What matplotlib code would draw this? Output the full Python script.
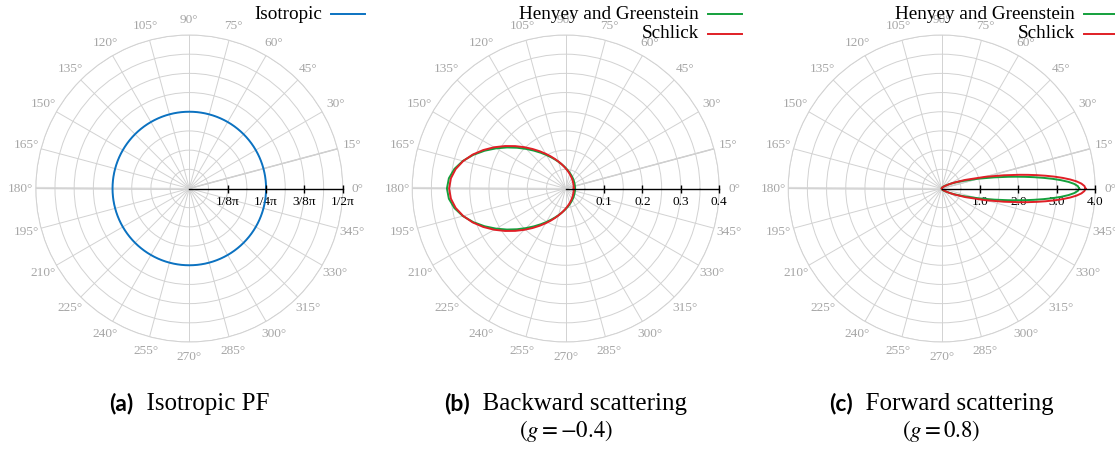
import numpy as np
import matplotlib.pyplot as plt
from matplotlib.lines import Line2D
from matplotlib.offsetbox import TextArea, HPacker, AnnotationBbox

plt.rcParams['font.family'] = ['Liberation Serif', 'DejaVu Serif']
plt.rcParams['mathtext.fontset'] = 'stix'

# phase function values (upper half, mirrored below)
back_deg = [0, 5, 10, 15, 20, 25, 30, 35, 40, 45, 50, 55, 60, 65, 70, 75, 80, 85, 90,
            95, 100, 105, 110, 115, 120, 125, 130, 135, 140, 145, 150, 155, 160, 165, 170, 175, 180]
back_hg = [0.0244, 0.0244, 0.0246, 0.0249, 0.0253, 0.0258, 0.0265, 0.0273, 0.0283, 0.0295,
           0.0309, 0.0325, 0.0343, 0.0365, 0.0389, 0.0418, 0.0452, 0.0490, 0.0535,
           0.0587, 0.0648, 0.0719, 0.0801, 0.0897, 0.1009, 0.1139, 0.1288, 0.1459, 0.1652,
           0.1865, 0.2093, 0.2330, 0.2563, 0.2774, 0.2944, 0.3056, 0.3095]
back_schlick = [0.0208, 0.0209, 0.0211, 0.0214, 0.0218, 0.0224, 0.0231, 0.0239, 0.0250, 0.0262,
                0.0277, 0.0294, 0.0314, 0.0337, 0.0364, 0.0395, 0.0432, 0.0474, 0.0524,
                0.0581, 0.0649, 0.0727, 0.0818, 0.0924, 0.1046, 0.1186, 0.1344, 0.1522, 0.1718,
                0.1929, 0.2150, 0.2371, 0.2581, 0.2766, 0.2912, 0.3005, 0.3038]

fwd_deg = [0, 1, 2, 3, 4, 5, 6, 7, 8, 9, 10, 12, 15, 20, 25, 30,
           40, 50, 60, 75, 90, 120, 150, 180]
fwd_hg = [3.581, 3.549, 3.454, 3.306, 3.115, 2.896, 2.660, 2.421, 2.187, 1.964, 1.757, 1.396, 0.986,
          0.568, 0.346, 0.223, 0.1074, 0.0599, 0.0372, 0.0211, 0.0136, 0.0075, 0.0054, 0.0049]
fwd_schlick = [3.746, 3.720, 3.643, 3.521, 3.359, 3.167, 2.954, 2.729, 2.500, 2.274, 2.056, 1.658, 1.176,
               0.656, 0.376, 0.224, 0.0918, 0.0440, 0.0239, 0.0115, 0.0065, 0.0030, 0.0019, 0.0017]

iso_value = 0.0796  # 1/(4 pi)

a_ticks = [1 / (8 * np.pi), 1 / (4 * np.pi), 3 / (8 * np.pi), 1 / (2 * np.pi)]
a_labels = ['1/8\u03c0', '1/4\u03c0', '3/8\u03c0', '1/2\u03c0']
b_ticks = [0.1, 0.2, 0.3, 0.4]
b_labels = ['0.1', '0.2', '0.3', '0.4']
c_ticks = [1.0, 2.0, 3.0, 4.0]
c_labels = ['1.0', '2.0', '3.0', '4.0']

blue = '#0b72c1'
green = '#14a03c'
red = '#e01f26'
grid_c = '#d2d2d2'

W, H = 1115, 451
fig = plt.figure(figsize=(W / 100, H / 100), dpi=100)

centers = [189.3, 565.7, 941.7]
cy = 188.5
R = 153.5


def mirror(deg, r):
    deg = list(deg)
    r = list(r)
    th = deg + [360 - d for d in deg[::-1][1:]]
    rr = r + r[::-1][1:]
    return np.deg2rad(th), np.array(rr)


def make_ax(cx, rmax, ticks, labels):
    ax = fig.add_axes([(cx - R) / W, (H - cy - R) / H, 2 * R / W, 2 * R / H], projection='polar')
    ax.set_ylim(0, rmax)
    ax.set_xticks(np.deg2rad(np.arange(0, 360, 15)))
    ax.set_xticklabels([])
    ax.set_yticks(np.linspace(rmax / 8, rmax, 8))
    ax.set_yticklabels([])
    ax.grid(True, color=grid_c, lw=0.7)
    ax.spines['polar'].set_color(grid_c)
    ax.spines['polar'].set_linewidth(0.7)
    for d in range(0, 360, 15):
        ax.text(np.deg2rad(d), rmax * 1.098, f'{d}\u00b0', ha='center', va='center',
                color='#a6a6a6', fontsize=9.6)
    ax.plot([np.pi, np.pi], [0, rmax], color='#dcdcdc', lw=1.6, zorder=1)
    ax.plot([np.deg2rad(15)] * 2, [0, rmax], color='#c4c4c4', lw=1.0, zorder=1)
    ax.plot([0, 0], [0, rmax], color='k', lw=1.0, zorder=4, clip_on=False)
    ax.plot(np.zeros(len(ticks)), ticks, ls='none', marker='|', ms=5.5, mew=1.0,
            color='k', zorder=4, clip_on=False)
    for t, l in zip(ticks, labels):
        ax.annotate(l, (0, t), xytext=(0, -9.5), textcoords='offset points',
                    ha='center', va='center', fontsize=9.5)
    return ax


def legend(cx, entries):
    x_txt = (cx + 133.0) / W
    for i, (label, col) in enumerate(entries):
        y = 1 - (14.3 + 19.5 * i) / H
        fig.text(x_txt, y, label, ha='right', va='center', fontsize=13.8, zorder=10)
        fig.add_artist(Line2D([(cx + 142) / W, (cx + 176) / W], [y, y], color=col, lw=1.4,
                              transform=fig.transFigure))


def caption(cx, tag, text, sub=None):
    box = HPacker(children=[
        TextArea(tag, textprops=dict(fontweight='bold', family='Lato', fontsize=16.5)),
        TextArea('  ' + text, textprops=dict(fontsize=18)),
    ], align='baseline', pad=0, sep=0)
    ab = AnnotationBbox(box, (cx / W, 1 - 404 / H), xycoords='figure fraction',
                        frameon=False, box_alignment=(0.5, 0.5))
    fig.add_artist(ab)
    if sub:
        fig.text(cx / W, 1 - 431 / H, sub, ha='center', va='center', fontsize=16.5)


# (a) isotropic
ax1 = make_ax(centers[0], 1 / (2 * np.pi), a_ticks, a_labels)
th_iso = np.deg2rad(np.arange(0, 361, 3))
ax1.plot(th_iso, np.full(len(th_iso), iso_value), color=blue, lw=1.4, zorder=3)
legend(centers[0], [('Isotropic', blue)])
caption(centers[0], '(a)', 'Isotropic PF')

# (b) backward scattering
ax2 = make_ax(centers[1], 0.4, b_ticks, b_labels)
th, r = mirror(back_deg, back_hg)
ax2.plot(th, r, color=green, lw=1.4, zorder=3)
th, r = mirror(back_deg, back_schlick)
ax2.plot(th, r, color=red, lw=1.4, zorder=3)
legend(centers[1], [('Henyey and Greenstein', green), ('Schlick', red)])
caption(centers[1], '(b)', 'Backward scattering', r'$(g = -0.4)$')

# (c) forward scattering
ax3 = make_ax(centers[2], 4.0, c_ticks, c_labels)
th, r = mirror(fwd_deg, fwd_hg)
ax3.plot(th, r, color=green, lw=1.4, zorder=3)
th, r = mirror(fwd_deg, fwd_schlick)
ax3.plot(th, r, color=red, lw=1.4, zorder=3)
legend(centers[2], [('Henyey and Greenstein', green), ('Schlick', red)])
caption(centers[2], '(c)', 'Forward scattering', r'$(g = 0.8)$')

fig.savefig('out.png', dpi=100)
